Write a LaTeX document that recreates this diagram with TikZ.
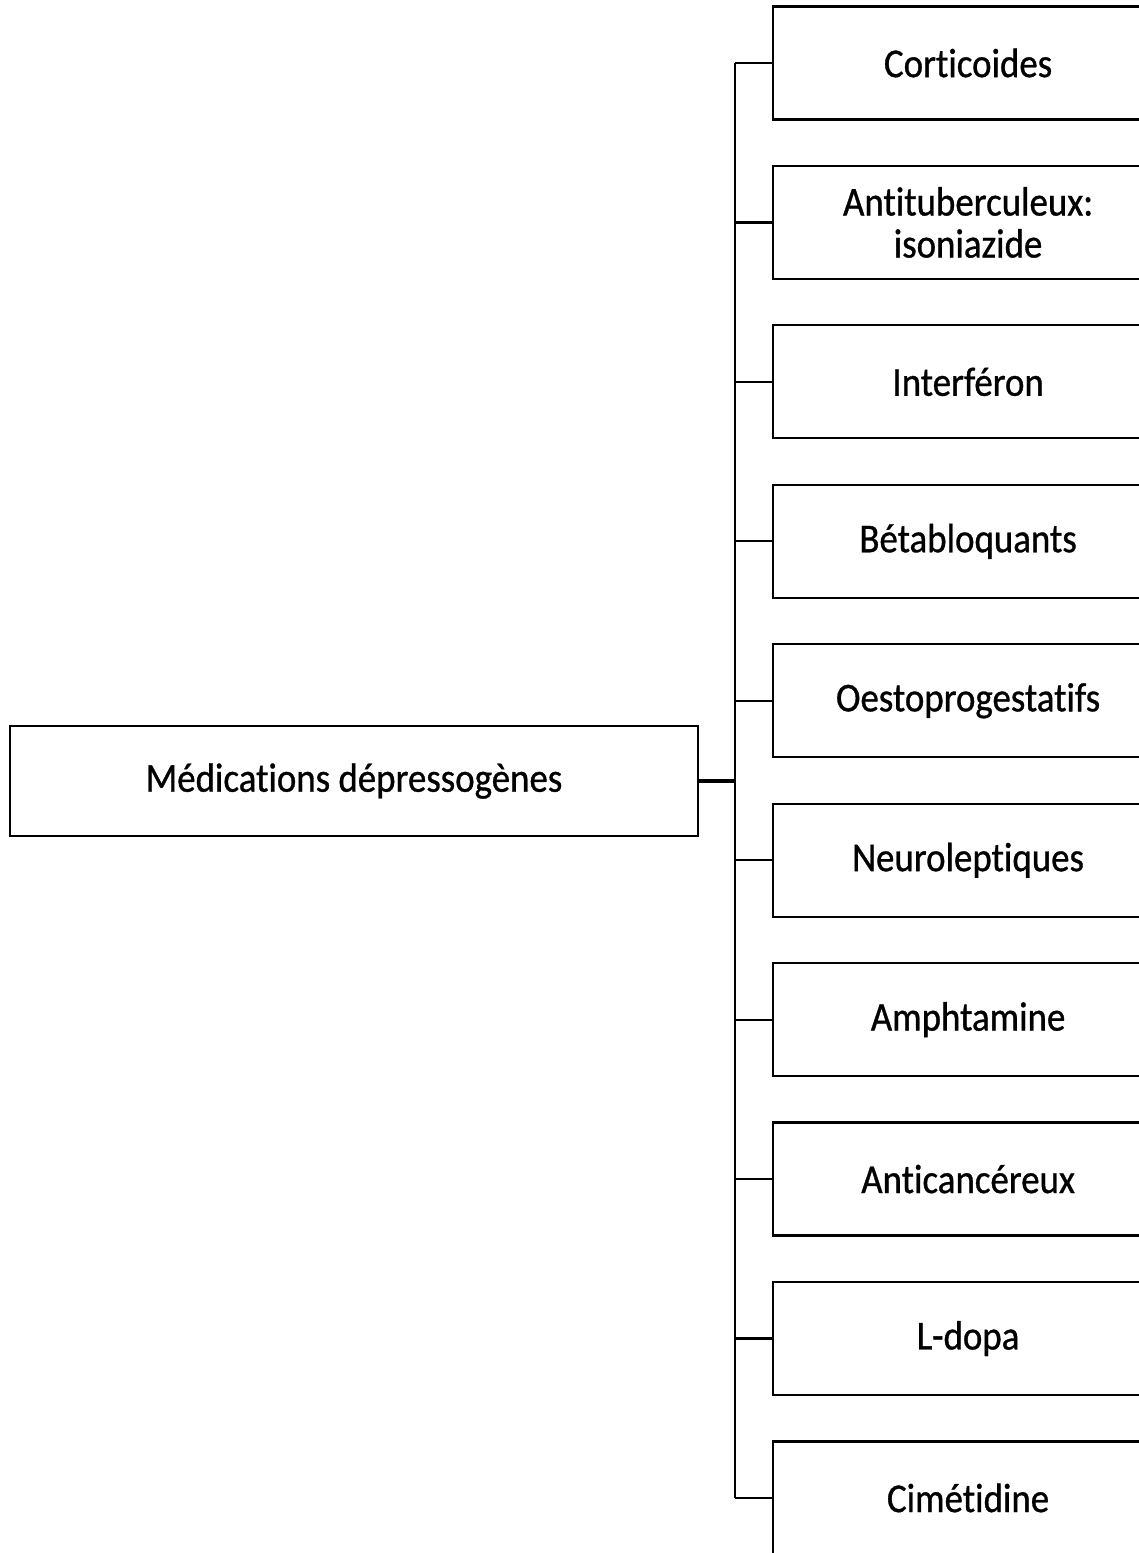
\documentclass[tikz,border=0pt]{standalone}
\usepackage{fontspec}
\setmainfont{Carlito}
\newfontfamily\boxfont{Carlito}[FakeStretch=0.9,FakeBold=0.8,Ligatures={NoCommon,NoContextual},RawFeature={-liga;-clig}]
\begin{document}
\begin{tikzpicture}[x=1pt,y=-1pt,
    mainbox/.style={draw,line width=2.2pt,minimum width=688pt,minimum height=110pt,inner sep=0pt,font=\boxfont\fontsize{41}{42}\selectfont},
    drugbox/.style={draw,line width=2.2pt,anchor=west,minimum width=390pt,minimum height=113pt,inner sep=0pt,align=center,font=\boxfont\fontsize{41}{42}\selectfont},
    branch/.style={line width=2.2pt}]
        \useasboundingbox (0,0) rectangle (1139,1553);

        \node[mainbox] (med) at (354,781) {Médications dépressogènes};

        \foreach \lbl [count=\i] in {Corticoides, {Antituberculeux:\\isoniazide}, Interféron, Bétabloquants, Oestoprogestatifs, Neuroleptiques, Amphtamine, Anticancéreux, L-dopa, Cimétidine}
            \node[drugbox, xshift=-195pt] (d\i) at (967,{63+(\i-1)*159.44}) {\lbl};

        \coordinate (bustop) at (735,63);
        \coordinate (busbot) at (735,1498);
        \draw[branch] (bustop) -- (busbot);

        \foreach \i in {1,...,10}
            \draw[branch] (d\i.west) -- (d\i.west -| bustop);

        \draw[line width=4pt] (med.east) -- (med.east -| bustop);
    \end{tikzpicture}
\end{document}
